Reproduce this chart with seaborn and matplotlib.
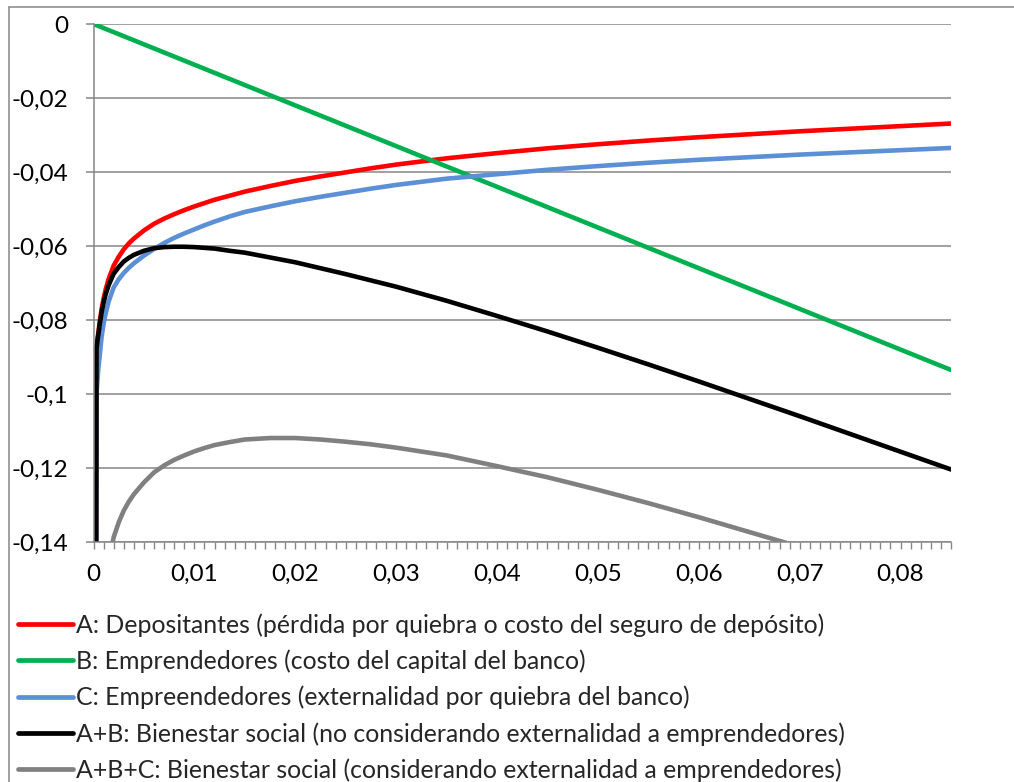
import numpy as np
import pandas as pd
import matplotlib
matplotlib.use("Agg")
import matplotlib.pyplot as plt
from matplotlib.lines import Line2D
from matplotlib.ticker import FixedLocator, MultipleLocator
import seaborn as sns

# Capital ratio (x) shared by the curved series
x_curve = [0.00025, 0.0003, 0.0004, 0.0005, 0.0006, 0.0008, 0.001, 0.0012, 0.0015,
           0.002, 0.0025, 0.003, 0.0035, 0.004, 0.005, 0.006, 0.007, 0.008,
           0.009, 0.010, 0.011, 0.012, 0.0135, 0.015, 0.0175, 0.020, 0.0225,
           0.025, 0.0275, 0.030, 0.035, 0.040, 0.045, 0.050, 0.055, 0.060,
           0.065, 0.070, 0.075, 0.080, 0.085]

# A: depositors
dep_a = [-0.1600, -0.0876, -0.0850, -0.0830, -0.0808, -0.0771, -0.0742, -0.0718,
         -0.0689, -0.0653, -0.0629, -0.0609, -0.0593, -0.0580, -0.0558, -0.0540,
         -0.0526, -0.0514, -0.0503, -0.0493, -0.0484, -0.0475, -0.0464, -0.0453,
         -0.0438, -0.0424, -0.0412, -0.0401, -0.0390, -0.0380, -0.0363, -0.0349,
         -0.0336, -0.0325, -0.0315, -0.0306, -0.0298, -0.0290, -0.0283, -0.0276,
         -0.0269]

# B: entrepreneurs, cost of bank capital (straight line)
x_b = [0.0, 0.020, 0.040, 0.060, 0.080, 0.085]
emp_b = [0.0, -0.0220, -0.0440, -0.0660, -0.0880, -0.0935]

# C: entrepreneurs, externality from bank failure
ext_c = [-0.1700, -0.1000, -0.0958, -0.0926, -0.0900, -0.0846, -0.0810, -0.0783,
         -0.0750, -0.0712, -0.0690, -0.0673, -0.0659, -0.0647, -0.0626, -0.0608,
         -0.0592, -0.0578, -0.0566, -0.0555, -0.0544, -0.0534, -0.0520, -0.0508,
         -0.0493, -0.0479, -0.0467, -0.0456, -0.0445, -0.0435, -0.0418, -0.0406,
         -0.0394, -0.0384, -0.0375, -0.0367, -0.0360, -0.0353, -0.0347, -0.0341,
         -0.0335]

# A+B: social welfare without the externality
welf_ab = [-0.1650, -0.0879, -0.0854, -0.0836, -0.0815, -0.0780, -0.0753, -0.0731,
           -0.0706, -0.0675, -0.0657, -0.0642, -0.0632, -0.0624, -0.0613, -0.0606,
           -0.0603, -0.0602, -0.0602, -0.0603, -0.0605, -0.0607, -0.0613, -0.0618,
           -0.0631, -0.0644, -0.0660, -0.0676, -0.0693, -0.0710, -0.0748, -0.0789,
           -0.0831, -0.0875, -0.0920, -0.0966, -0.1013, -0.1060, -0.1108, -0.1156,
           -0.1204]

# A+B+C: social welfare including the externality
welf_abc = [-0.3300, -0.1879, -0.1812, -0.1762, -0.1715, -0.1626, -0.1563, -0.1514,
            -0.1456, -0.1387, -0.1347, -0.1315, -0.1291, -0.1271, -0.1239, -0.1212,
            -0.1193, -0.1178, -0.1166, -0.1155, -0.1146, -0.1138, -0.1130, -0.1123,
            -0.1119, -0.1119, -0.1123, -0.1129, -0.1136, -0.1145, -0.1166, -0.1195,
            -0.1225, -0.1259, -0.1295, -0.1333, -0.1373, -0.1413, -0.1455, -0.1497,
            -0.1539]

labels = [
    "A: Depositantes (pérdida por quiebra o costo del seguro de depósito)",
    "B: Emprendedores (costo del capital del banco)",
    "C: Empreendedores (externalidad por quiebra del banco)",
    "A+B: Bienestar social (no considerando externalidad a emprendedores)",
    "A+B+C: Bienestar social (considerando externalidad a emprendedores)",
]
colors = ["#FF0000", "#00B050", "#5B8FD6", "#000000", "#808080"]

x_ticks = [0.0, 0.01, 0.02, 0.03, 0.04, 0.05, 0.06, 0.07, 0.08]
x_ticklabels = ["0", "0,01", "0,02", "0,03", "0,04", "0,05", "0,06", "0,07", "0,08"]
y_ticks = [0.0, -0.02, -0.04, -0.06, -0.08, -0.10, -0.12, -0.14]
y_ticklabels = ["0", "-0,02", "-0,04", "-0,06", "-0,08", "-0,1", "-0,12", "-0,14"]

frames = [
    pd.DataFrame({"x": x_curve, "y": dep_a, "serie": labels[0]}),
    pd.DataFrame({"x": x_b, "y": emp_b, "serie": labels[1]}),
    pd.DataFrame({"x": x_curve, "y": ext_c, "serie": labels[2]}),
    pd.DataFrame({"x": x_curve, "y": welf_ab, "serie": labels[3]}),
    pd.DataFrame({"x": x_curve, "y": welf_abc, "serie": labels[4]}),
]
df = pd.concat(frames, ignore_index=True)

sns.set_theme(style="white")
plt.rcParams["font.family"] = ["Lato", "DejaVu Sans"]

grid_col = "#868686"
fs_ticks = 17.5
fs_legend = 17.9
W, H = 1014, 782
fig = plt.figure(figsize=(W / 100, H / 100), dpi=100)
ax = fig.add_axes([93.5 / W, 1 - 542 / H, (951 - 93.5) / W, (542 - 24) / H])

sns.lineplot(data=df, x="x", y="y", hue="serie", hue_order=labels,
             palette=dict(zip(labels, colors)), estimator=None, sort=False,
             linewidth=3.3, ax=ax, legend=False)
for ln in ax.get_lines():
    ln.set_solid_joinstyle("round")

ax.set_xlim(0, 0.085)
ax.set_ylim(-0.14, 0)
ax.set_xlabel("")
ax.set_ylabel("")

ax.xaxis.set_major_locator(FixedLocator(x_ticks))
ax.set_xticklabels(x_ticklabels)
ax.xaxis.set_minor_locator(MultipleLocator(0.001))
ax.yaxis.set_major_locator(FixedLocator(y_ticks))
ax.set_yticklabels(y_ticklabels)

ax.grid(False)
ax.yaxis.grid(True, color=grid_col, linewidth=1.1)
ax.set_axisbelow(True)
for side in ("top", "right"):
    ax.spines[side].set_visible(False)
for side in ("left", "bottom"):
    ax.spines[side].set_color(grid_col)
    ax.spines[side].set_linewidth(1.1)

ax.tick_params(axis="x", which="both", direction="out", length=5, width=1.0,
               color=grid_col, bottom=True, labelsize=fs_ticks, pad=11,
               labelcolor="black")
ax.tick_params(axis="y", which="major", direction="out", length=6, width=1.1,
               color=grid_col, left=True, labelsize=fs_ticks, pad=12,
               labelcolor="black")

handles = [Line2D([0], [0], color=c, linewidth=3.4, solid_capstyle="round")
           for c in colors]
fig.legend(handles, labels, loc="upper left",
           bbox_to_anchor=(18 / W, 1 - 613 / H), frameon=False,
           fontsize=fs_legend, handlelength=2.2, handletextpad=0.15,
           labelspacing=0.515, borderpad=0, borderaxespad=0)

# Chart-area border (top and left edges)
fig.add_artist(Line2D([9 / W, 1], [1 - 7 / H, 1 - 7 / H], color=grid_col,
                      linewidth=1.1, transform=fig.transFigure))
fig.add_artist(Line2D([9 / W, 9 / W], [0, 1 - 7 / H], color=grid_col,
                      linewidth=1.1, transform=fig.transFigure))

fig.savefig("out.png", dpi=100, facecolor="white")
